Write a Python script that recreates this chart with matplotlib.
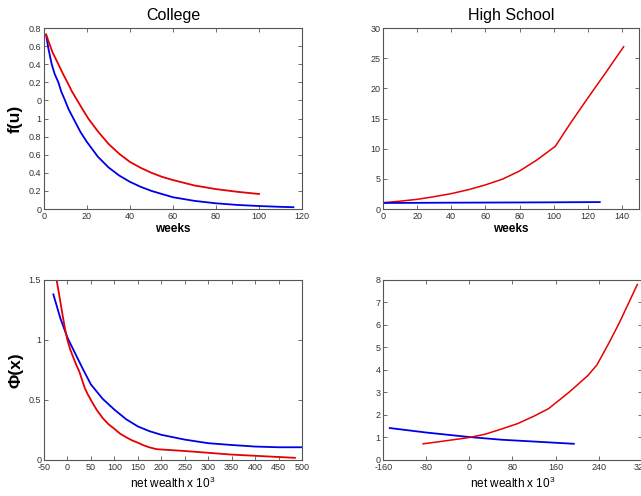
import matplotlib
matplotlib.use("Agg")
import matplotlib.pyplot as plt

plt.rcParams['font.family'] = ['Liberation Sans', 'DejaVu Sans']
plt.rcParams['mathtext.fontset'] = 'custom'
plt.rcParams['mathtext.rm'] = 'Liberation Sans'
plt.rcParams['mathtext.it'] = 'Liberation Sans'
plt.rcParams['axes.unicode_minus'] = False

# College, f(u) against weeks
col_weeks_blue = [1, 2, 3.6, 5, 6.7, 8, 9.8, 11.5, 13.7, 17, 20, 25, 30, 35, 40, 45, 50, 60, 70, 80, 90, 100, 110, 116]
col_f_blue = [1.92, 1.78, 1.6, 1.49, 1.4, 1.3, 1.2, 1.1, 1.0, 0.85, 0.74, 0.58, 0.46, 0.37, 0.3, 0.245, 0.2, 0.13, 0.09, 0.063, 0.045, 0.033, 0.024, 0.02]
col_weeks_red = [1, 2, 4, 6.7, 8.7, 10.9, 13, 15.5, 18, 20.6, 25, 30, 35, 40, 45, 50, 55, 60, 70, 80, 90, 100]
col_f_red = [1.93, 1.86, 1.73, 1.6, 1.5, 1.4, 1.3, 1.2, 1.1, 1.0, 0.86, 0.72, 0.61, 0.52, 0.455, 0.4, 0.355, 0.32, 0.26, 0.22, 0.19, 0.166]
col_f_ticks = [0, 0.2, 0.4, 0.6, 0.8, 1.0, 1.2, 1.4, 1.6, 1.8, 2.0]
col_f_ticklabels = ['0', '0.2', '0.4', '0.6', '0.8', '1', '0', '0.2', '0.4', '0.6', '0.8']
col_week_ticks = [0, 20, 40, 60, 80, 100, 120]

# High school, f(u) against weeks
hs_weeks_blue = [0, 40, 93, 127]
hs_f_blue = [1.0, 1.05, 1.1, 1.15]
hs_weeks_red = [0, 10, 20, 30, 40, 50, 60, 70, 80, 90, 101, 110, 120, 130, 141]
hs_f_red = [1.05, 1.3, 1.6, 2.05, 2.55, 3.2, 4.0, 4.95, 6.3, 8.1, 10.4, 14.3, 18.4, 22.4, 26.9]
hs_week_ticks = [0, 20, 40, 60, 80, 100, 120, 140]
hs_f_ticks = [0, 5, 10, 15, 20, 25, 30]

# College, Phi(x) against net wealth
col_w_blue = [-30, -15, 0, 15, 34, 50, 75, 100, 125, 150, 175, 200, 250, 300, 350, 400, 450, 500]
col_phi_blue = [1.38, 1.18, 1.02, 0.9, 0.75, 0.63, 0.51, 0.42, 0.34, 0.28, 0.24, 0.21, 0.17, 0.14, 0.125, 0.112, 0.106, 0.106]
col_w_red = [-23, -16, -10, -5, 0, 6, 12, 18, 25, 31, 37, 43, 50, 62, 75, 87, 100, 112, 125, 137, 150, 162, 175, 190, 250, 300, 350, 400, 450, 485]
col_phi_red = [1.5, 1.34, 1.2, 1.09, 1.0, 0.92, 0.86, 0.8, 0.74, 0.67, 0.6, 0.55, 0.5, 0.42, 0.35, 0.3, 0.26, 0.22, 0.19, 0.165, 0.144, 0.123, 0.105, 0.09, 0.075, 0.06, 0.045, 0.035, 0.025, 0.018]
col_w_ticks = [-50, 0, 50, 100, 150, 200, 250, 300, 350, 400, 450, 500]
col_phi_ticks = [0, 0.5, 1.0, 1.5]
col_phi_ticklabels = ['0', '0.5', '1', '1.5']

# High school, Phi(x) against net wealth
hs_w_blue = [-148, -80, 0, 60, 120, 194]
hs_phi_blue = [1.42, 1.22, 1.02, 0.9, 0.82, 0.72]
hs_w_red = [-86, -60, -30, 0, 30, 60, 90, 120, 147, 184, 220, 237, 259, 278, 312]
hs_phi_red = [0.72, 0.8, 0.9, 1.0, 1.15, 1.38, 1.62, 1.95, 2.28, 2.99, 3.75, 4.23, 5.19, 6.07, 7.8]
hs_w_ticks = [-160, -80, 0, 80, 160, 240, 320]
hs_phi_ticks = [0, 1, 2, 3, 4, 5, 6, 7, 8]

fig = plt.figure(figsize=(6.41, 4.96), dpi=100)

spine_col = '#555555'
tick_col = '#333333'


def style(ax):
    for s in ax.spines.values():
        s.set_color(spine_col)
        s.set_linewidth(0.8)
    ax.tick_params(direction='in', length=3, width=0.6, color=spine_col,
                   labelsize=6.5, labelcolor=tick_col, top=True, right=True,
                   pad=2)


lw = 1.3
red = (0.9, 0.0, 0.0)
blue = (0.0, 0.0, 0.9)

ax1 = fig.add_axes([0.0686, 0.5786, 0.4025, 0.3649])
ax1.plot(col_weeks_blue, col_f_blue, color=blue, lw=lw)
ax1.plot(col_weeks_red, col_f_red, color=red, lw=lw)
ax1.set_xlim(0, 120)
ax1.set_ylim(0, 2.0)
ax1.set_xticks(col_week_ticks)
ax1.set_yticks(col_f_ticks)
ax1.set_yticklabels(col_f_ticklabels)
style(ax1)
ax1.set_title('College', fontsize=11.5, pad=6)
ax1.set_xlabel('weeks', fontsize=8.5, fontweight='bold', labelpad=1.5)
ax1.set_ylabel('f(u)', fontsize=12.5, fontweight='bold', labelpad=4)

ax2 = fig.add_axes([0.5975, 0.5786, 0.3994, 0.3649])
ax2.plot(hs_weeks_red, hs_f_red, color=red, lw=1.1)
ax2.plot(hs_weeks_blue, hs_f_blue, color=blue, lw=lw)
ax2.set_xlim(0, 150)
ax2.set_ylim(0, 30)
ax2.set_xticks(hs_week_ticks)
ax2.set_yticks(hs_f_ticks)
style(ax2)
ax2.set_title('High School', fontsize=11.5, pad=6)
ax2.set_xlabel('weeks', fontsize=8.5, fontweight='bold', labelpad=1.5)

ax3 = fig.add_axes([0.0686, 0.0726, 0.4025, 0.3629])
ax3.plot(col_w_blue, col_phi_blue, color=blue, lw=lw)
ax3.plot(col_w_red, col_phi_red, color=red, lw=lw)
ax3.set_xlim(-50, 500)
ax3.set_ylim(0, 1.5)
ax3.set_xticks(col_w_ticks)
ax3.set_yticks(col_phi_ticks)
ax3.set_yticklabels(col_phi_ticklabels)
style(ax3)
ax3.set_xlabel('net wealth x 10$^3$', fontsize=8.5, labelpad=3)
ax3.set_ylabel('Φ(x)', fontsize=12.5, fontweight='bold', labelpad=4)

ax4 = fig.add_axes([0.598, 0.0726, 0.403, 0.3629])
ax4.plot(hs_w_blue, hs_phi_blue, color=blue, lw=lw)
ax4.plot(hs_w_red, hs_phi_red, color=red, lw=1.1)
ax4.set_xlim(-160, 320)
ax4.set_ylim(0, 8)
ax4.set_xticks(hs_w_ticks)
ax4.set_yticks(hs_phi_ticks)
style(ax4)
ax4.set_xlabel('net wealth x 10$^3$', fontsize=8.5, labelpad=3)

fig.savefig('out.png', dpi=100)
